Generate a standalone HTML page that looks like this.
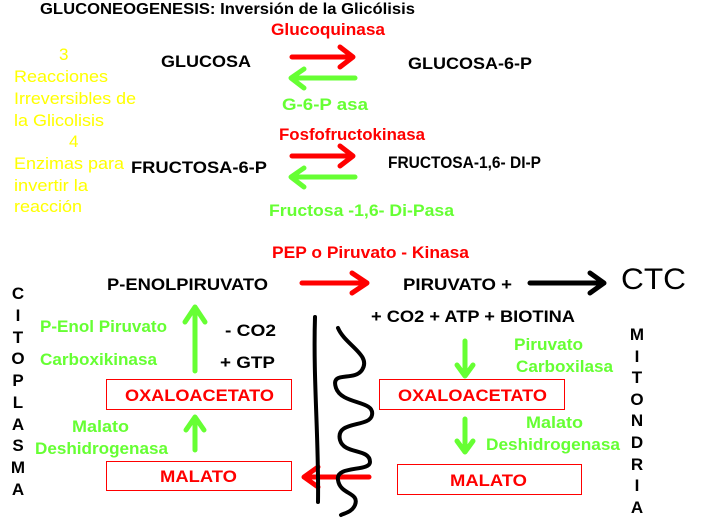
<!DOCTYPE html>
<html><head><meta charset="utf-8"><style>
html,body{margin:0;padding:0;background:#fff;}
svg{display:block;}
text{font-family:"Liberation Sans",Arial,sans-serif;font-weight:bold;font-size:17px;}
.r{fill:#ff0000}.g{fill:#66ff33}.y{fill:#ffff00;font-weight:normal}.k{fill:#000}
</style></head><body>
<svg width="715" height="527" viewBox="0 0 715 527" xmlns="http://www.w3.org/2000/svg">
<text x="40" y="14" class="k" style="font-size:16px" textLength="375" lengthAdjust="spacingAndGlyphs">GLUCONEOGENESIS: Inversión de la Glicólisis</text>
<text x="271" y="35" class="r" textLength="114" lengthAdjust="spacingAndGlyphs">Glucoquinasa</text>
<text x="59" y="60" class="y">3</text>
<text x="14" y="82" class="y" textLength="94" lengthAdjust="spacingAndGlyphs">Reacciones</text>
<text x="14" y="104" class="y" textLength="122" lengthAdjust="spacingAndGlyphs">Irreversibles de</text>
<text x="14" y="126" class="y" textLength="90" lengthAdjust="spacingAndGlyphs">la Glicolisis</text>
<text x="69" y="147" class="y">4</text>
<text x="14" y="169" class="y" textLength="110" lengthAdjust="spacingAndGlyphs">Enzimas para</text>
<text x="14" y="191" class="y" textLength="74" lengthAdjust="spacingAndGlyphs">invertir la</text>
<text x="14" y="212" class="y" textLength="68" lengthAdjust="spacingAndGlyphs">reacción</text>
<text x="161" y="67" class="k" textLength="90" lengthAdjust="spacingAndGlyphs">GLUCOSA</text>
<text x="408" y="69" class="k" textLength="124" lengthAdjust="spacingAndGlyphs">GLUCOSA-6-P</text>
<text x="282" y="110" class="g" textLength="86" lengthAdjust="spacingAndGlyphs">G-6-P asa</text>
<text x="279" y="140" class="r" textLength="146" lengthAdjust="spacingAndGlyphs">Fosfofructokinasa</text>
<text x="131" y="173" class="k" textLength="136" lengthAdjust="spacingAndGlyphs">FRUCTOSA-6-P</text>
<text x="388" y="168" class="k" textLength="153" lengthAdjust="spacingAndGlyphs">FRUCTOSA-1,6- DI-P</text>
<text x="269" y="216" class="g" textLength="185" lengthAdjust="spacingAndGlyphs">Fructosa -1,6- Di-Pasa</text>
<text x="272" y="258" class="r" textLength="197" lengthAdjust="spacingAndGlyphs">PEP o Piruvato - Kinasa</text>
<text x="107" y="290" class="k" textLength="161" lengthAdjust="spacingAndGlyphs">P-ENOLPIRUVATO</text>
<text x="403" y="290" class="k" textLength="109" lengthAdjust="spacingAndGlyphs">PIRUVATO +</text>
<text x="621" y="289" class="k" style="font-size:30px;font-weight:normal" textLength="65" lengthAdjust="spacingAndGlyphs">CTC</text>
<text x="371" y="322" class="k" textLength="204" lengthAdjust="spacingAndGlyphs">+ CO2 + ATP + BIOTINA</text>
<text x="40" y="332" class="g" textLength="127" lengthAdjust="spacingAndGlyphs">P-Enol Piruvato</text>
<text x="40" y="365" class="g" textLength="117" lengthAdjust="spacingAndGlyphs">Carboxikinasa</text>
<text x="225" y="336" class="k" textLength="51" lengthAdjust="spacingAndGlyphs">- CO2</text>
<text x="220" y="368" class="k" textLength="55" lengthAdjust="spacingAndGlyphs">+ GTP</text>
<text x="72" y="432" class="g" textLength="57" lengthAdjust="spacingAndGlyphs">Malato</text>
<text x="35" y="454" class="g" textLength="133" lengthAdjust="spacingAndGlyphs">Deshidrogenasa</text>
<text x="514" y="350" class="g" textLength="69" lengthAdjust="spacingAndGlyphs">Piruvato</text>
<text x="516" y="372" class="g" textLength="97" lengthAdjust="spacingAndGlyphs">Carboxilasa</text>
<text x="526" y="428" class="g" textLength="57" lengthAdjust="spacingAndGlyphs">Malato</text>
<text x="486" y="450" class="g" textLength="134" lengthAdjust="spacingAndGlyphs">Deshidrogenasa</text>
<g fill="#000" text-anchor="middle">
<text x="18" y="299">C</text><text x="18" y="321">I</text><text x="18" y="343">T</text><text x="18" y="364">O</text><text x="18" y="386">P</text><text x="18" y="408">L</text><text x="18" y="430">A</text><text x="18" y="451">S</text><text x="18" y="473">M</text><text x="18" y="495">A</text>
<text x="637" y="340">M</text><text x="637" y="362">I</text><text x="637" y="383">T</text><text x="637" y="405">O</text><text x="637" y="426">N</text><text x="637" y="448">D</text><text x="637" y="470">R</text><text x="637" y="491">I</text><text x="637" y="513">A</text>
</g>
<rect x="106.5" y="379.5" width="185" height="30" fill="none" stroke="#ff0000"/>
<text x="125" y="401" class="r" textLength="149" lengthAdjust="spacingAndGlyphs">OXALOACETATO</text>
<rect x="106.5" y="461.5" width="185" height="29" fill="none" stroke="#ff0000"/>
<text x="160" y="482" class="r" textLength="77" lengthAdjust="spacingAndGlyphs">MALATO</text>
<rect x="379.5" y="379.5" width="185" height="30" fill="none" stroke="#ff0000"/>
<text x="398" y="401" class="r" textLength="149" lengthAdjust="spacingAndGlyphs">OXALOACETATO</text>
<rect x="397.5" y="464.5" width="184" height="30" fill="none" stroke="#ff0000"/>
<text x="450" y="486" class="r" textLength="77" lengthAdjust="spacingAndGlyphs">MALATO</text>
<g fill="none" stroke-width="5" stroke-linecap="round" stroke-linejoin="round">
<g stroke="#ff0000">
<path d="M292 57H352M340 47L353 57L340 67"/>
<path d="M292 156H352M340 146L353 156L340 166"/>
<path d="M302 283H366M352 273L367 283L352 293"/>
<path d="M369 477H305M318 467L304 477L318 487"/>
</g>
<g stroke="#66ff33">
<path d="M355 78H292M304 69L291 78L304 88"/>
<path d="M355 177H292M304 168L291 177L304 187"/>
<path d="M195 371V309M185 322L195 307L205 322"/>
<path d="M195 450V418M186 430L195 417L204 430"/>
<path d="M465 341V375M457 365L465 376L473 365"/>
<path d="M465 419V451M457 441L465 452L473 441"/>
</g>
<path stroke="#000" d="M530 283H602M590 273L604 283L590 293"/>
<path stroke="#000" stroke-width="4" d="M315 317C313 380 319 440 318 502"/>
<path stroke="#000" stroke-width="4" d="M338 328C345 345 372 355 362 370C354 382 330 370 336 388C342 405 375 400 372 415C370 428 335 420 340 440C344 455 370 448 370 462C370 472 335 465 338 480C340 495 360 492 355 505C352 512 345 513 341 515"/>
</g>
</svg>
</body></html>
